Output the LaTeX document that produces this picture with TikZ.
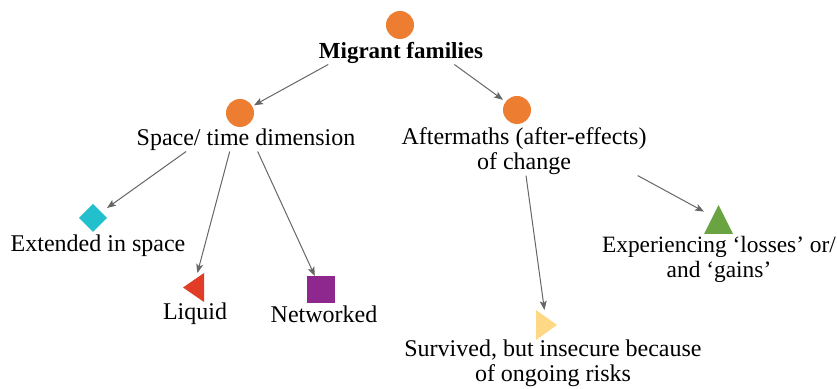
\documentclass[tikz,border=0pt]{standalone}
\usepackage{fontspec}
\setmainfont{Liberation Serif}
\usetikzlibrary{arrows.meta}
\definecolor{orangeC}{HTML}{ED7D31}
\definecolor{cyanC}{HTML}{22BFCC}
\definecolor{redC}{HTML}{E03C28}
\definecolor{purpleC}{HTML}{8E278E}
\definecolor{greenC}{HTML}{6AA342}
\definecolor{yellowC}{HTML}{FFD885}
\definecolor{arrgray}{HTML}{666666}
\begin{document}
\begin{tikzpicture}[x=0.5pt,y=-0.5pt,
  lbl/.style={inner sep=0pt, font=\fontsize{12}{12.5}\selectfont, align=center, anchor=base},
  shp/.style={inner sep=0pt, outer sep=0pt, minimum width=14pt, minimum height=14pt},
  arr/.style={draw=arrgray, line width=0.5pt, -{Stealth[length=4.5pt,width=3.5pt,inset=1pt]}}]
\useasboundingbox (0,0) rectangle (837,389);
% shape boxes
\node[shp] (c0) at (400,25) {};
\node[shp] (c1) at (240,113) {};
\node[shp] (c2) at (517,110) {};
\node[shp] (dia) at (93,218) {};
\node[shp, minimum width=10.5pt, minimum height=14.5pt] (tri1) at (193.5,287.5) {};
\node[shp, minimum height=13.5pt] (sq) at (321,289.5) {};
\node[shp, minimum width=14.5pt, minimum height=14.5pt] (tri2) at (718.5,219.5) {};
\node[shp, minimum width=10.5pt, minimum height=15pt] (tri3) at (546.5,325) {};
% shapes
\fill[orangeC] (c0) circle[radius=7pt];
\fill[orangeC] (c1) circle[radius=7pt];
\fill[orangeC] (c2) circle[radius=7pt];
\fill[cyanC] (dia.north) -- (dia.east) -- (dia.south) -- (dia.west) -- cycle;
\fill[redC] (tri1.north east) -- (tri1.south east) -- (tri1.west) -- cycle;
\fill[purpleC] (sq.south west) rectangle (sq.north east);
\fill[greenC] (tri2.south west) -- (tri2.south east) -- (tri2.north) -- cycle;
\fill[yellowC] (tri3.north west) -- (tri3.east) -- (tri3.south west) -- cycle;
% labels
\node[lbl, font=\fontsize{11.5}{12.5}\selectfont\bfseries] (mig) at (401,59) {Migrant families};
\node[lbl] (spc) at (246,146) {Space/ time dimension};
\node[lbl] (aft) at (524,170) {Aftermaths (after-effects)\\of change};
\node[lbl] (ext) at (98,252) {Extended in space};
\node[lbl] (liq) at (195,320) {Liquid};
\node[lbl] (net) at (324,323) {Networked};
\node[lbl, font=\fontsize{11.7}{12.5}\selectfont] (exp) at (719,278) {Experiencing ‘losses’ or/\\and ‘gains’};
\node[lbl] (sur) at (553,382) {Survived, but insecure because\\of ongoing risks};
% connectors
\draw[arr] (intersection of c0--c1 and mig.south west--mig.south east) -- (c1);
\draw[arr] (intersection of c0--c2 and mig.south west--mig.south east) -- (c2);
\draw[arr] (intersection of c1--dia and spc.south west--spc.south east) -- (dia);
\draw[arr] (intersection of c1--tri1 and spc.south west--spc.south east) -- (tri1);
\draw[arr] (intersection of c1--sq and spc.south west--spc.south east) -- (sq);
\draw[arr] (intersection of c2--tri3 and aft.south west--aft.south east) -- (tri3);
\draw[arr] (intersection of c2--tri2 and aft.south west--aft.south east) -- (tri2);
\end{tikzpicture}
\end{document}
